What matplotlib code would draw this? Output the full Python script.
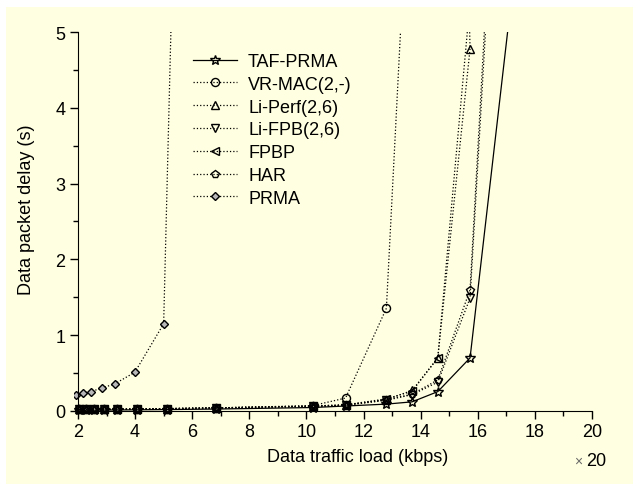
import numpy as np
import matplotlib
matplotlib.use('Agg')
import matplotlib.pyplot as plt
import matplotlib.patches as mpatches

plt.rcParams['font.family'] = ['Liberation Sans', 'DejaVu Sans']

BG = '#FFFFE1'

# data (x in units of 20 kbps, delay in s)
x_taf = [2.05, 2.28, 2.56, 2.91, 3.38, 4.08, 5.1, 6.83, 10.22, 11.37, 12.8, 13.7, 14.6, 15.73, 17.35]
y_taf = [0.01, 0.01, 0.01, 0.012, 0.013, 0.015, 0.018, 0.025, 0.045, 0.065, 0.09, 0.12, 0.255, 0.70, 6.0]

x_vr = [2.05, 2.28, 2.56, 2.91, 3.38, 4.08, 5.1, 6.83, 10.22, 11.37, 12.8, 13.7]
y_vr = [0.02, 0.02, 0.02, 0.022, 0.025, 0.028, 0.03, 0.04, 0.07, 0.17, 1.355, 8.0]

x_liperf = [2.05, 2.28, 2.56, 2.91, 3.38, 4.08, 5.1, 6.83, 10.22, 11.37, 12.8, 13.7, 14.6, 15.73, 15.65]
y_liperf = [0.02, 0.02, 0.02, 0.02, 0.022, 0.025, 0.03, 0.04, 0.065, 0.08, 0.15, 0.27, 0.70, 4.78, 6.0]

x_lifpb = [2.05, 2.28, 2.56, 2.91, 3.38, 4.08, 5.1, 6.83, 10.22, 11.37, 12.8, 13.7, 14.6, 15.73, 16.5]
y_lifpb = [0.02, 0.02, 0.02, 0.02, 0.022, 0.025, 0.03, 0.04, 0.06, 0.075, 0.14, 0.215, 0.38, 1.49, 6.5]

x_fpbp = [2.05, 2.28, 2.56, 2.91, 3.38, 4.08, 5.1, 6.83, 10.22, 11.37, 12.8, 13.7, 14.6, 15.73]
y_fpbp = [0.02, 0.02, 0.02, 0.02, 0.022, 0.025, 0.03, 0.04, 0.065, 0.08, 0.16, 0.26, 0.70, 5.4]

x_har = [2.05, 2.28, 2.56, 2.91, 3.38, 4.08, 5.1, 6.83, 10.22, 11.37, 12.8, 13.7, 14.6, 15.73, 16.45]
y_har = [0.02, 0.02, 0.02, 0.02, 0.022, 0.025, 0.03, 0.04, 0.06, 0.075, 0.15, 0.22, 0.41, 1.60, 6.5]

x_prma = [1.93, 2.16, 2.44, 2.83, 3.30, 3.99, 5.0, 5.45]
y_prma = [0.215, 0.237, 0.255, 0.30, 0.36, 0.51, 1.15, 8.0]

FS = 13

fig = plt.figure(figsize=(6.33, 4.85), dpi=100)
fig.patch.set_facecolor('white')
fig.patches.append(mpatches.Rectangle((6/633, 0), 1 - 6/633, 1 - 8/485,
                                      transform=fig.transFigure, facecolor=BG,
                                      edgecolor='none', zorder=-1))

# x: 1.85..20 ; y: -0.08..5
ax = fig.add_axes([73.7/633, 1 - 418/485, 518.3/633, 385/485])
ax.set_facecolor('none')

ms = 5.8
kw = dict(color='black', lw=0.9, mec='black', mew=1.0)
ax.plot(x_taf, y_taf, '-', marker='*', ms=7.5, mfc='none', label='TAF-PRMA', **kw)
ax.plot(x_vr, y_vr, ':', marker='o', ms=ms, mfc='none', label='VR-MAC(2,-)', **kw)
ax.plot(x_liperf, y_liperf, ':', marker='^', ms=ms, mfc='none', label='Li-Perf(2,6)', **kw)
ax.plot(x_lifpb, y_lifpb, ':', marker='v', ms=ms, mfc='none', label='Li-FPB(2,6)', **kw)
ax.plot(x_fpbp, y_fpbp, ':', marker='<', ms=ms, mfc='none', label='FPBP', **kw)
ax.plot(x_har, y_har, ':', marker='p', ms=ms, mfc='none', label='HAR', **kw)
ax.plot(x_prma, y_prma, ':', marker='D', ms=4.5, mfc='#b8b8b8', label='PRMA', **kw)

ax.set_xlim(1.85, 20)
ax.set_ylim(-0.08, 5)
for s in ['top', 'right']:
    ax.spines[s].set_visible(False)
ax.spines['left'].set_position(('data', 2))
ax.spines['bottom'].set_position(('data', 0))
ax.spines['left'].set_bounds(0, 5)
ax.spines['bottom'].set_bounds(2, 20)
ax.set_xticks(np.arange(2, 21, 2))
ax.set_xticks(np.arange(2, 21, 1), minor=True)
ax.set_yticks(np.arange(0, 6, 1))
ax.set_yticks(np.arange(0, 5.1, 0.5), minor=True)
ax.tick_params(which='major', direction='out', length=6, width=1.0, labelsize=FS)
ax.tick_params(axis='x', which='major', pad=3)
ax.tick_params(axis='y', which='major', pad=3)
ax.tick_params(which='minor', direction='out', length=3.5, width=1.0)

ax.set_xlabel('Data traffic load (kbps)', fontsize=FS)
ax.xaxis.set_label_coords(0.547, -0.08)
ax.set_ylabel('Data packet delay (s)', fontsize=FS)
ax.yaxis.set_label_coords(-0.075, 0.54)

fig.text(578/633, 1 - 462/485, '×', color='#666666', fontsize=10, ha='center', va='center')
fig.text(586/633, 1 - 462/485, '20', fontsize=FS, ha='left', va='center')

ax.legend(loc='upper left', bbox_to_anchor=(193/633, 1 - 54/485), bbox_transform=fig.transFigure,
          frameon=False, fontsize=FS, handlelength=2.45, handletextpad=0.6, labelspacing=0.32,
          borderpad=0, borderaxespad=0)

plt.savefig('out.png', dpi=100, facecolor=fig.get_facecolor())
